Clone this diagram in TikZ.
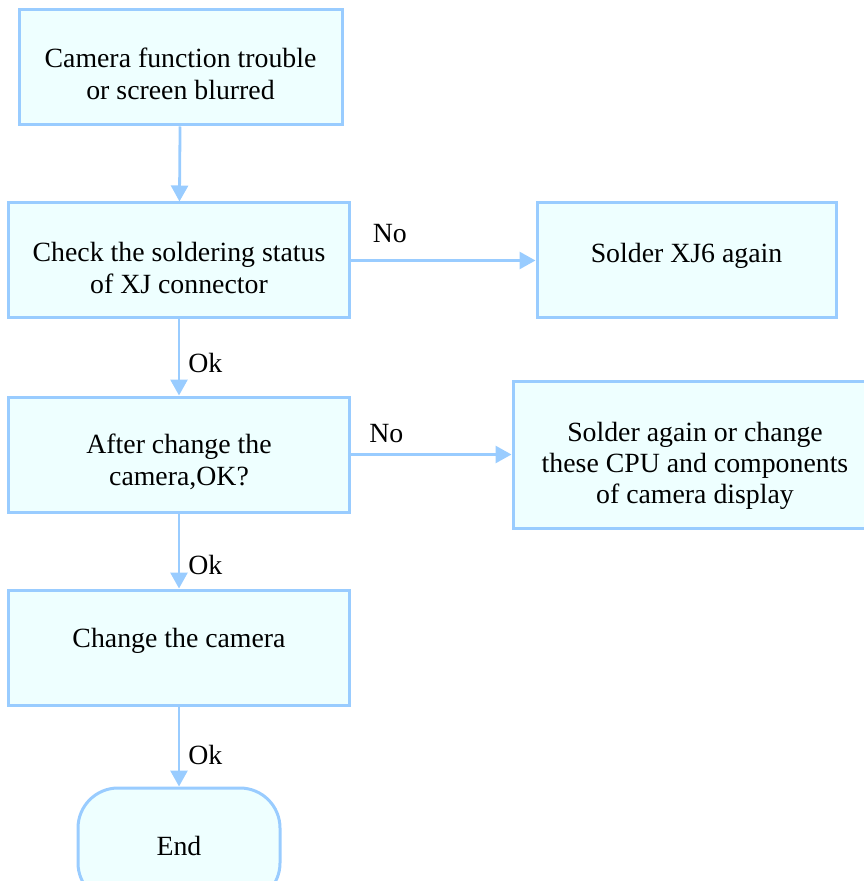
\documentclass[tikz,border=0pt]{standalone}
\usepackage{fontspec}
\setmainfont{Liberation Serif}
\usetikzlibrary{arrows.meta,positioning}
\definecolor{bdc}{RGB}{153,204,255}
\definecolor{bxc}{RGB}{238,255,255}
\newcommand\padtop[1]{\rule{0pt}{#1}}

\begin{document}
\begin{tikzpicture}[x=0.5pt,y=-0.5pt,
  box/.style={draw=bdc,fill=bxc,line width=1.5pt,align=center,minimum width=170.5pt,minimum height=57.5pt,inner sep=0pt,font=\fontsize{13.9}{16}\selectfont},
  flow/.style={draw=bdc,line width=1.4pt,-{Triangle[length=8pt,width=8.5pt]}},
  lbl/.style={font=\fontsize{13.9}{16}\selectfont,inner sep=0pt}]
  \useasboundingbox (0,0) rectangle (863,881);
  \node[box,minimum width=161.5pt] (trouble) at (180.5,67.5) {\padtop{16.5pt}Camera function trouble\\or screen blurred};
  \node[box] (check) at (179,260.5) {\padtop{17.5pt}Check the soldering status\\of XJ connector};
  \node[box,minimum width=149.5pt,text depth=8pt] (solder) at (686.5,260.5) {Solder XJ6 again};
  \node[box] (after) at (179,454.5) {\padtop{17.5pt}After change the\\camera,OK?};
  \node[box,minimum width=182pt,minimum height=73.5pt,font=\fontsize{13.9}{15.5}\selectfont] (again) at (695,454.5) {\padtop{20.5pt}Solder again or change\\these CPU and components\\of camera display};
  \node[box,text depth=10pt] (change) at (179,647.5) {Change the camera};
  \node[box,minimum width=101pt,rounded corners=20pt] (end) at (179,845.5) {End};
  % connectors
  \draw[flow] (trouble) -- (check);
  \draw[flow] (check) -- node[lbl,pos=.21,above=8pt] {No} (solder);
  \draw[flow] (check) -- node[lbl,pos=.57,right=4pt] {Ok} (after);
  \draw[flow] (after) -- node[lbl,pos=.22,above=5pt] {No} (again);
  \draw[flow] (after) -- node[lbl,pos=.68,right=4pt] {Ok} (change);
  \draw[flow] (change) -- node[lbl,pos=.61,right=4pt] {Ok} (end);
\end{tikzpicture}
\end{document}
